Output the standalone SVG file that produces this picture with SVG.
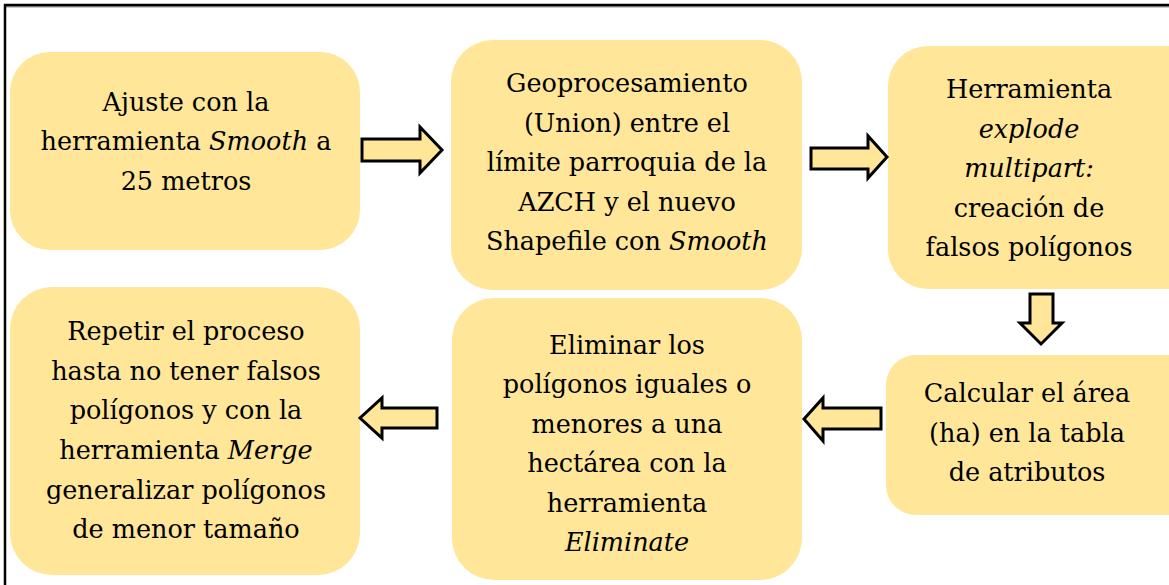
<svg xmlns="http://www.w3.org/2000/svg" width="1169" height="585" viewBox="0 0 1169 585">
<style>
.box{fill:#FFE699;stroke:none}
.arr{fill:#FFE699;stroke:#000;stroke-width:3;stroke-linejoin:miter}
text{font-family:'DejaVu Serif','Liberation Serif',serif;font-size:25.5px;fill:#000;text-anchor:middle}
.i{font-style:italic}
</style>
<rect width="1169" height="585" fill="#fff"/>
<g id="frame">
<line x1="4" y1="6.5" x2="1169" y2="6.5" stroke="#999" stroke-width="2"/>
<line x1="4" y1="5" x2="1169" y2="5" stroke="#000" stroke-width="2.5"/>
<line x1="5" y1="4" x2="5" y2="585" stroke="#000" stroke-width="2.5"/>
</g>
<g id="n1">
<rect class="box" x="10" y="52" width="350" height="198" rx="40"/>
<text x="186" y="111">Ajuste con la</text>
<text x="186" y="150">herramienta <tspan class="i">Smooth</tspan> a</text>
<text x="186" y="190">25 metros</text>
</g>
<g id="n2">
<rect class="box" x="451" y="40" width="351" height="250" rx="42"/>
<text x="627" y="92">Geoprocesamiento</text>
<text x="627" y="132">(Union) entre el</text>
<text x="627" y="171">límite parroquia de la</text>
<text x="627" y="211">AZCH y el nuevo</text>
<text x="627" y="250">Shapefile con <tspan class="i">Smooth</tspan></text>
</g>
<g id="n3">
<rect class="box" x="888" y="46" width="320" height="243" rx="40"/>
<text x="1029" y="98">Herramienta</text>
<text x="1029" y="138" class="i">explode</text>
<text x="1029" y="177" class="i">multipart:</text>
<text x="1029" y="217">creación de</text>
<text x="1029" y="256">falsos polígonos</text>
</g>
<g id="n4">
<rect class="box" x="886" y="355" width="320" height="160" rx="30"/>
<text x="1027" y="402">Calcular el área</text>
<text x="1027" y="442">(ha) en la tabla</text>
<text x="1027" y="481">de atributos</text>
</g>
<g id="n5">
<rect class="box" x="452" y="298" width="350" height="282" rx="42"/>
<text x="627" y="354">Eliminar los</text>
<text x="627" y="393">polígonos iguales o</text>
<text x="627" y="433">menores a una</text>
<text x="627" y="472">hectárea con la</text>
<text x="627" y="512">herramienta</text>
<text x="627" y="551" class="i">Eliminate</text>
</g>
<g id="n6">
<rect class="box" x="10" y="287" width="350" height="288" rx="42"/>
<text x="186" y="340">Repetir el proceso</text>
<text x="186" y="380">hasta no tener falsos</text>
<text x="186" y="419">polígonos y con la</text>
<text x="186" y="459">herramienta <tspan class="i">Merge</tspan></text>
<text x="186" y="499">generalizar polígonos</text>
<text x="186" y="538">de menor tamaño</text>
</g>
<g id="connectors">
<polygon class="arr" points="362,139 420,139 420,127 442,150 420,173 420,161 362,161"/>
<polygon class="arr" points="811,148 868,148 868,136 887,157 868,178 868,169 811,169"/>
<polygon class="arr" points="1030,294 1053,294 1053,323 1062,323 1041,344 1020,323 1030,323"/>
<polygon class="arr" points="881,408 823,408 823,398 804,419 823,441 823,429 881,429"/>
<polygon class="arr" points="437,408 382,408 382,398 360,418 382,438 382,428 437,428"/>
</g>
</svg>
